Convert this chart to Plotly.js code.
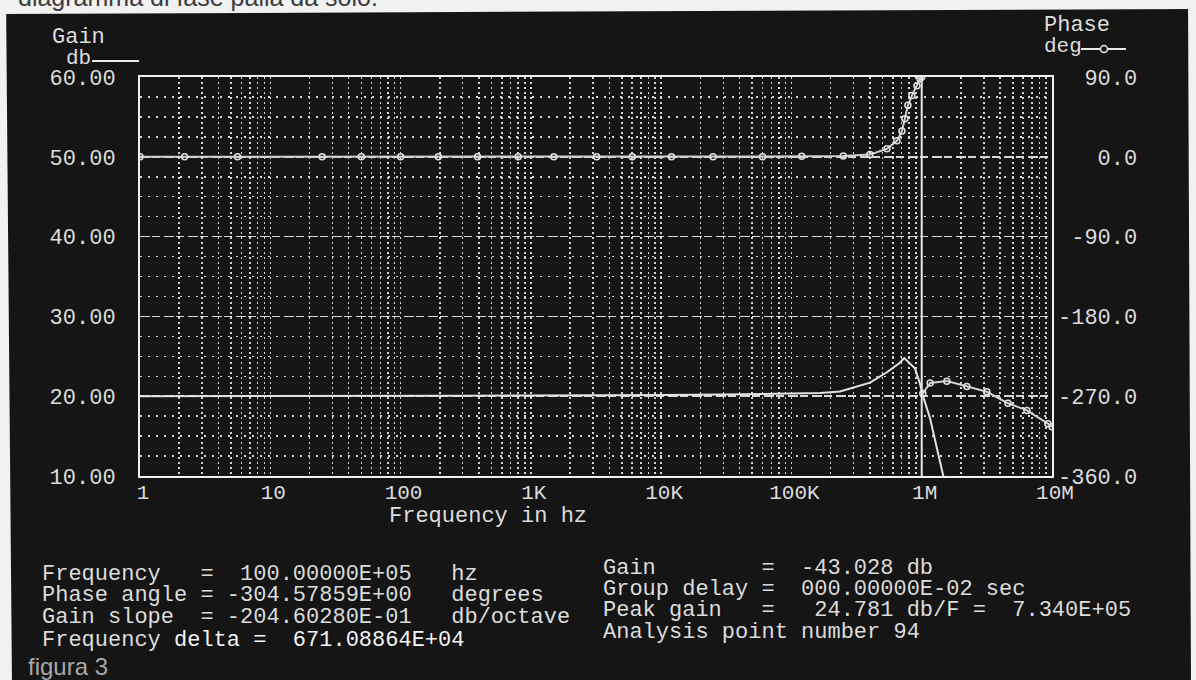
<!DOCTYPE html>
<html>
<head>
<meta charset="utf-8">
<script src="https://cdn.plot.ly/plotly-3.0.1.min.js"></script>
<style>
  html, body { margin: 0; padding: 0; background: #f2f2f2; }
  #chart { width: 1196px; height: 680px; }
</style>
</head>
<body>
<div id="chart"></div>
<script>
// ---------------- DATA ----------------
const gainFreq = [1, 3, 10, 30, 100, 300, 1000, 3000, 10000, 30000, 100000, 166000, 236000, 296000, 401000, 541000, 680000, 734000, 887000, 969000, 1020000, 1160000, 1310000, 1460000, 10000000];
const gainDb   = [20.0, 20.0, 20.0, 20.0, 20.0, 20.05, 20.1, 20.1, 20.15, 20.2, 20.3, 20.4, 20.6, 21.1, 21.7, 23.0, 24.2, 24.78, 23.5, 21.6, 20.1, 17.2, 13.5, 10.1, -43.028];

const phaseFreq = [1, 2.2, 5.6, 25, 50, 100, 195, 390, 800, 1500, 3200, 6000, 12000, 25000, 60000, 120000, 250000, 400000, 541000, 645000, 705000, 743000, 784000, 841000, 919000, 969000, 1000000, 1000000, 1020000, 1160000, 1560000, 2220000, 3160000, 4590000, 6420000, 9300000, 10000000];
const phaseDeg  = [0, 0, 0, 0, 0, 0, 0, 0, 0, 0, 0, 0, 0, 0, 0, 0.5, 1, 2.5, 9, 18, 29, 43, 58, 69, 80, 88, 90, null, -267, -255, -253, -259, -265, -278, -286, -301, -304.58];

const freqTickVals = [1, 10, 100, 1000, 10000, 100000, 1000000, 10000000];
const freqTickText = ['1', '10', '100', '1K', '10K', '100K', '1M', '10M'];
const gainTickVals = [10, 20, 30, 40, 50, 60];
const gainTickText = ['10.00', '20.00', '30.00', '40.00', '50.00', '60.00'];
const phaseTickVals = [-360, -270, -180, -90, 0, 90];
const phaseTickText = ['-360.0', '-270.0', '-180.0', '-90.0', '0.0', '90.0'];
const cursorFreq = [1000000];

const readoutLeft = [
  'Frequency   =  100.00000E+05   hz',
  'Phase angle = -304.57859E+00   degrees',
  'Gain slope  = -204.60280E-01   db/octave'
];
const readoutLeftLast = ['Frequency', 'delta =  671.08864E+04'];
const readoutRight = [
  'Gain        =  -43.028 db',
  'Group delay =  000.00000E-02 sec',
  'Peak gain   =   24.781 db/F =  7.340E+05',
  'Analysis point number 94'
];

// ---------------- LAYOUT HELPERS ----------------
const W = 1196, H = 680;
const PL = 140, PR = 1052, PT = 77, PB = 476;
const px = v => (v - PL) / (PR - PL);
const py = v => (PB - v) / (PB - PT);
const nb = s => s.replace(/ /g, '\u00A0');
const padL = (s, n) => nb(s.padStart(n, ' '));

const MONO = 'Liberation Mono, DejaVu Sans Mono, monospace';
const TXT = '#dcdcdc';
const BG = '#151515';
const GRID = '#d6d6d6';

// minor x grid values (2..9 of every decade)
const minorX = [];
for (let d = 0; d < 7; d++) for (let k = 2; k <= 9; k++) minorX.push(k * Math.pow(10, d));

const traces = [
  {
    x: gainFreq, y: gainDb, type: 'scatter', mode: 'lines',
    line: { color: '#e2e2e2', width: 2 }, xaxis: 'x', yaxis: 'y',
    hoverinfo: 'skip', showlegend: false
  },
  {
    x: phaseFreq, y: phaseDeg, type: 'scatter', mode: 'lines+markers',
    line: { color: '#d0d0d0', width: 2 },
    marker: { symbol: 'circle-open', size: 6, color: '#e0e0e0', line: { width: 1.5 } },
    connectgaps: false, xaxis: 'x', yaxis: 'y2', hoverinfo: 'skip', showlegend: false
  }
];

const ann = [];
function addText(text, x, y, opts) {
  ann.push(Object.assign({
    text: text, xref: 'paper', yref: 'paper', x: px(x), y: py(y),
    xanchor: 'left', yanchor: 'middle', showarrow: false,
    font: { family: MONO, size: 22, color: TXT }
  }, opts || {}));
}
addText('Gain', 50, 37);
addText('db', 64, 59, { font: { family: MONO, size: 21, color: TXT } });
addText('Phase', 1042, 26);
addText('deg', 1042, 47, { font: { family: MONO, size: 21, color: TXT } });
addText('Frequency in hz', 488, 516, { xanchor: 'center' });
readoutLeft.forEach((s, i) => addText(nb(s), 40, [574, 595, 617][i]));
addText(readoutLeftLast[0], 40, 640);
addText(nb(readoutLeftLast[1]), 40 + 10 * 13.2, 640, { font: { family: MONO, size: 22, color: '#f4f4f4' } });
readoutRight.forEach((s, i) => addText(nb(s), 601, [568, 589, 610, 632][i]));
addText('figura 3', 26, 666, { font: { family: 'Liberation Sans, Arial, sans-serif', size: 24, color: '#a8a8a8' } });
addText('diagramma di fase palla da solo.', 16, 13, { yanchor: 'bottom', font: { family: 'Liberation Sans, Arial, sans-serif', size: 25, color: '#3c3c3c' } });

function poly(pts) {
  return 'M' + pts.map(p => px(p[0]) + ',' + py(p[1])).join(' L') + ' Z';
}
const shapes = [
  // cursor line
  { type: 'line', xref: 'paper', yref: 'paper', x0: Math.log10(cursorFreq[0]) / 7, x1: Math.log10(cursorFreq[0]) / 7, y0: 0, y1: 1,
    line: { color: '#e8e8e8', width: 2 } },
  // legend lines
  { type: 'line', xref: 'paper', yref: 'paper', x0: px(92), x1: px(139), y0: py(61), y1: py(61), line: { color: '#e8e8e8', width: 2 } },
  { type: 'line', xref: 'paper', yref: 'paper', x0: px(1081), x1: px(1126), y0: py(49), y1: py(49), line: { color: '#e8e8e8', width: 2 } },
  { type: 'circle', xref: 'paper', yref: 'paper', x0: px(1100.5), x1: px(1107.5), y0: py(45.5), y1: py(52.5), line: { color: '#e8e8e8', width: 1.5 }, fillcolor: BG },
  // scanned page margins
  { type: 'path', xref: 'paper', yref: 'paper', path: poly([[-5, -5], [1201, -5], [1201, 9], [-5, 14]]), fillcolor: '#f1f1f1', line: { width: 0 }, layer: 'above' },
  { type: 'path', xref: 'paper', yref: 'paper', path: poly([[-5, -5], [6, -5], [12, 685], [-5, 685]]), fillcolor: '#f1f1f1', line: { width: 0 }, layer: 'above' },
  { type: 'path', xref: 'paper', yref: 'paper', path: poly([[1188, -5], [1201, -5], [1201, 685], [1191, 685]]), fillcolor: '#f1f1f1', line: { width: 0 }, layer: 'above' }
];

const layout = {
  width: W, height: H,
  margin: { l: PL, r: W - PR, t: PT, b: H - PB, pad: 0 },
  paper_bgcolor: BG, plot_bgcolor: BG,
  showlegend: false,
  font: { family: MONO, size: 22, color: TXT },
  xaxis: {
    type: 'log', range: [0, 7],
    tickmode: 'array', tickvals: freqTickVals, ticktext: freqTickText,
    ticks: '', ticklabelstandoff: -4, ticklabelshift: 3,
    showgrid: true, gridcolor: GRID, gridwidth: 1.5, griddash: '2px,3px',
    minor: { tickmode: 'array', tickvals: minorX, showgrid: true, gridcolor: GRID, gridwidth: 1.5, griddash: '2px,3px', ticks: '' },
    showline: true, linecolor: '#f0f0f0', linewidth: 2, mirror: true,
    zeroline: false, fixedrange: true,
    tickfont: { family: MONO, size: 21, color: TXT }
  },
  yaxis: {
    range: [10, 60], tickmode: 'array', tickvals: gainTickVals, ticktext: gainTickText,
    ticks: '', ticklabelstandoff: 18,
    showgrid: true, gridcolor: GRID, gridwidth: 1.5, griddash: '8px,4px',
    minor: { dtick: 2.5, showgrid: true, gridcolor: GRID, gridwidth: 1.5, griddash: '2px,6px', ticks: '' },
    showline: true, linecolor: '#f0f0f0', linewidth: 2, mirror: true,
    zeroline: false, fixedrange: true,
    tickfont: { family: MONO, size: 22, color: TXT }
  },
  yaxis2: {
    range: [-360, 90], overlaying: 'y', side: 'right',
    tickmode: 'array', tickvals: phaseTickVals, ticktext: phaseTickText.map(s => padL(s, 6)),
    ticks: '', ticklabelstandoff: 5,
    showgrid: false, zeroline: false, showline: false, fixedrange: true,
    tickfont: { family: MONO, size: 22, color: TXT }
  },
  annotations: ann,
  shapes: shapes
};

Plotly.newPlot('chart', traces, layout, { displayModeBar: false, staticPlot: true });
</script>
</body>
</html>
